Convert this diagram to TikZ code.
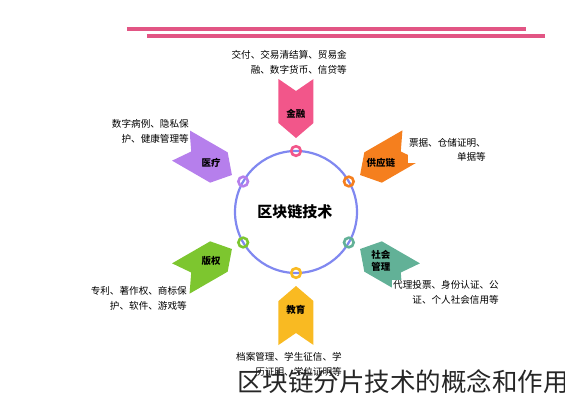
\documentclass[tikz,border=0pt]{standalone}
\usepackage{fontspec}
\setmainfont{Noto Sans CJK SC}
\usepackage{tikz}
\usetikzlibrary{calc,positioning}
\definecolor{pk}{HTML}{F2568A}
\definecolor{og}{HTML}{F57F1E}
\definecolor{tl}{HTML}{62B197}
\definecolor{yl}{HTML}{F9BA22}
\definecolor{gn}{HTML}{7DC62F}
\definecolor{pp}{HTML}{B67FEC}
\definecolor{cir}{HTML}{8088F0}
\definecolor{bar}{HTML}{E25584}
\tikzset{ring/.style={draw,circle,line width=2.6pt,minimum size=9.6pt,inner sep=0pt},
lab/.style={font=\bfseries\fontsize{9.5}{11.5}\selectfont,align=center,text=black},
txt/.style={font=\fontsize{9.6}{14.5}\selectfont,align=right,anchor=east,fill=white,inner sep=1pt,text=black}}

\begin{document}
\begin{tikzpicture}[x=1pt,y=1pt]
		\useasboundingbox (-296,-188) rectangle (269,212);
		% top bars
		\draw[bar,line width=4pt] (-169,183) -- (230,183);
		\draw[bar,line width=4pt] (-149,176) -- (249,176);
		\draw[cir,line width=2.2pt] (0,0) circle[radius=61];
		\node[font=\bfseries\fontsize{15}{15}\selectfont] (hub) at (-1,0) {区块链技术};
		\foreach \a/\c/\l/\t/\px/\py[count=\i] in {
				90/pk/金融/{交付、交易清结算、贸易金\\融、数字货币、信贷等}/52/149.5,
				30/og/供应链/{票据、仓储证明、\\单据等}/191/62,
				-30/tl/{社会\\管理}/{代理投票、身份认证、公\\证、个人社会信用等}/204/-80.5,
				-90/yl/教育/{档案管理、学生征信、学\\历证明、学位证明等}/47/-152.5,
				-150/gn/版权/{专利、著作权、商标保\\护、软件、游戏等}/-108/-86.5,
				150/pp/医疗/{数字病例、隐私保\\护、健康管理等}/-106/80.5}
		{
			\fill[\c,rotate=\a] (74,0) -- (89,17.5) -- (133,17.5) -- (121,0) -- (133,-17.5) -- (89,-17.5) -- cycle;
			\node[ring,\c] (r\i) at (\a:61) {};
			\node[lab] (l\i) at (\a:98) {\l};
			\node[txt] (t\i) at (\px,\py) {\t};
		}
		% watermark
		\node[anchor=west,font=\fontsize{25.5}{26}\selectfont,text=black!85,inner sep=0pt] (wm) at (-59,-170) {区块链分片技术的概念和作用};
	\end{tikzpicture}
\end{document}
